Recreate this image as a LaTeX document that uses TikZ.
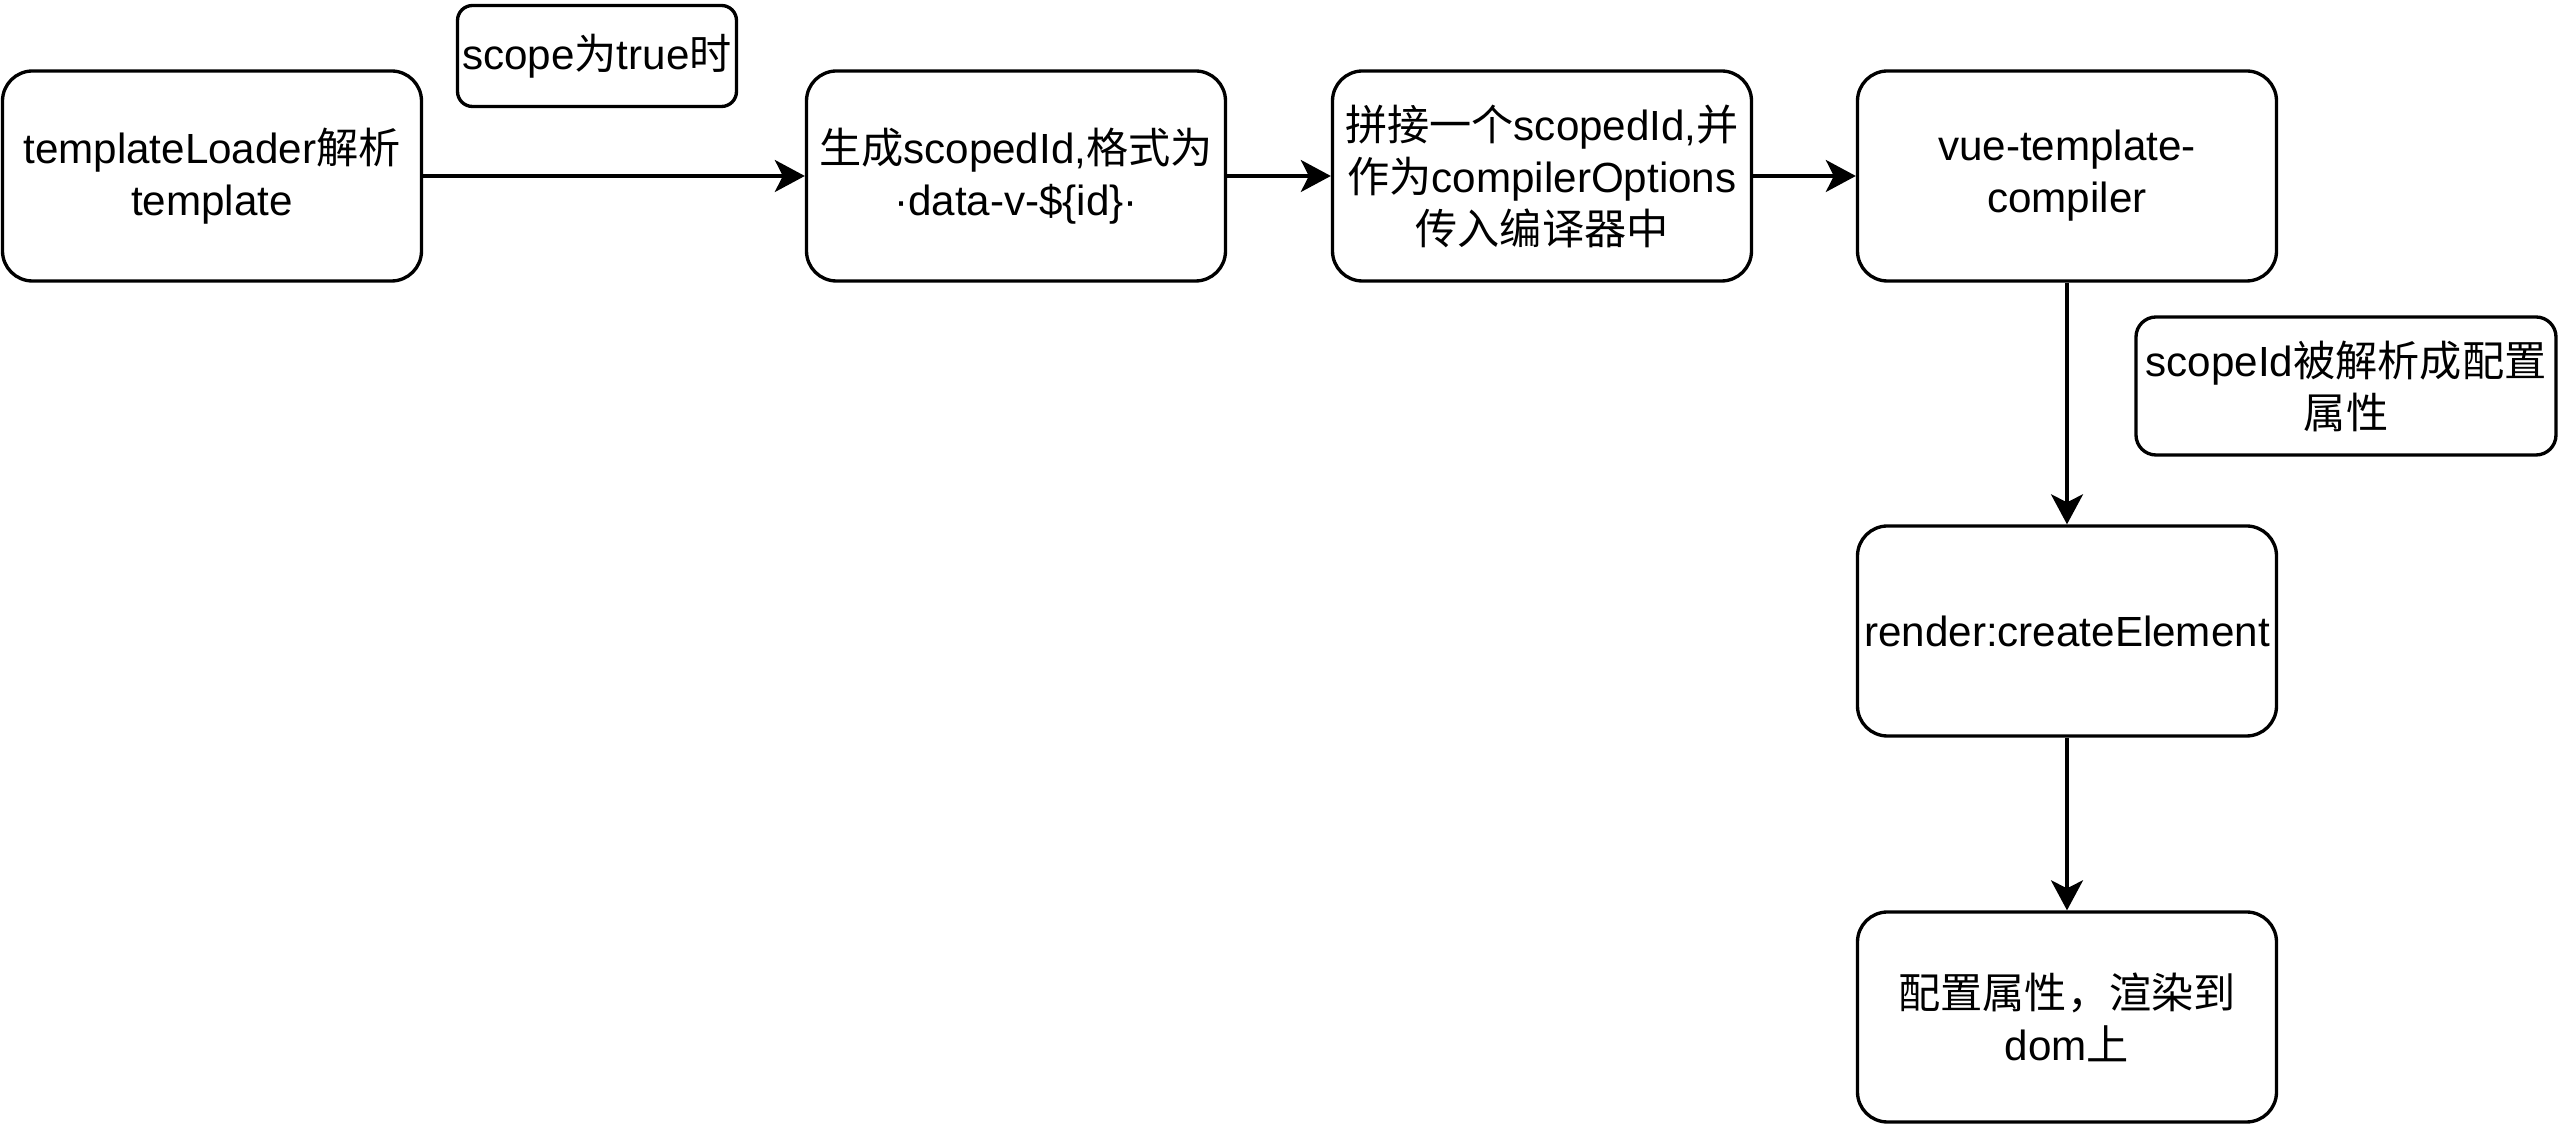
\documentclass[tikz,border=0pt]{standalone}
\usepackage{fontspec}
\setmainfont{Liberation Sans}
\newfontfamily\cjk{Noto Sans CJK SC}
\newcommand{\zh}[1]{{\cjk #1}}
\usetikzlibrary{arrows.meta}
\tikzset{
  box/.style={draw, rounded corners=3mm, minimum width=4.19cm, minimum height=2.1cm,
    align=center, inner sep=0pt, font=\fontsize{12}{14.8}\selectfont},
  note/.style={draw, rounded corners=#1, align=center, inner sep=0pt,
    font=\fontsize{12}{14.8}\selectfont},
  note/.default=2mm
}

\begin{document}
\begin{tikzpicture}[line width=0.95pt, >={Stealth[length=3mm, width=3.2mm, inset=0.8mm]}]
  \useasboundingbox (0,0) rectangle (25.59,-11.24);
  \node[box] (loader) at (2.12,-1.76) {templateLoader\zh{解析}\\template};
  \node[box] (genid) at (10.16,-1.76) {\zh{生成}scopedId,\zh{格式为}\\·data-v-\$\{id\}·};
  \node[box] (joinid) at (15.42,-1.76) {\zh{拼接一个}scopedId,\zh{并}\\\zh{作为}compilerOptions\\\zh{传入编译器中}};
  \node[box] (compiler) at (20.67,-1.76) {vue-template-\\compiler};
  \node[box] (render) at (20.67,-6.31) {render:createElement};
  \node[box] (dom) at (20.67,-10.17) {\zh{配置属性，渲染到}\\dom\zh{上}};
  \node[note=1.5mm, minimum width=2.79cm, minimum height=1.01cm] (scope) at (5.97,-0.56) {scope\zh{为}true\zh{时}};
  \node[note, minimum width=4.2cm, minimum height=1.38cm] (parse) at (23.46,-3.86) {scopeId\zh{被解析成配置}\\\zh{属性}};
  \draw[->] (loader) -- (genid);
  \draw[->] (genid) -- (joinid);
  \draw[->] (joinid) -- (compiler);
  \draw[->] (compiler) -- (render);
  \draw[->] (render) -- (dom);
\end{tikzpicture}
\end{document}
